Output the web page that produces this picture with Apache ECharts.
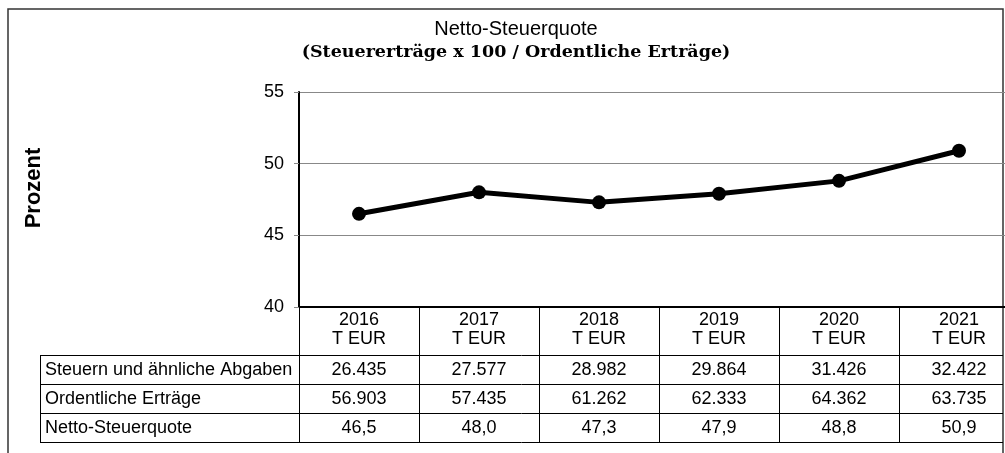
<!DOCTYPE html>
<html style="height: 100%">
<head>
  <meta charset="utf-8" />
  <title>Netto-Steuerquote</title>
  <script src="https://cdn.jsdelivr.net/npm/echarts@6/dist/echarts.min.js"></script>
</head>
<body style="height: 100%; margin: 0; overflow: hidden; background: #fff">
  <!-- etwas breiter als das Fenster: die letzte Spalte läuft rechts aus dem Bild -->
  <div id="container" style="width: 1020px; height: 453px"></div>
  <script>
    // Daten
    var years = ["2016", "2017", "2018", "2019", "2020", "2021"];
    var steuern = [26435, 27577, 28982, 29864, 31426, 32422];
    var ertraege = [56903, 57435, 61262, 62333, 64362, 63735];
    var quote = [46.5, 48.0, 47.3, 47.9, 48.8, 50.9];
    var rowNames = ["Steuern und ähnliche Abgaben", "Ordentliche Erträge", "Netto-Steuerquote"];

    var fmtInt = v => String(v).replace(/\B(?=(\d{3})+(?!\d))/g, ".");
    var fmtDec = v => v.toFixed(1).replace(".", ",");
    var rows = [steuern.map(fmtInt), ertraege.map(fmtInt), quote.map(fmtDec)];

    var font = "Liberation Sans";
    var fs = 18;
    var gridLeft = 299, gridTop = 92, gridH = 215;
    var headH = 48, rowH = 29;

    var dom = document.getElementById("container");
    var myChart = echarts.init(dom, null, { renderer: "canvas" });

    // eine x-Achse pro Tabellenzeile
    var rowAxes = rows.map((r, i) => ({
      type: "category",
      data: years,
      position: "bottom",
      offset: headH + i * rowH,
      axisLine: { show: false },
      axisTick: { show: true, length: rowH, lineStyle: { color: "#000", width: 1 } },
      axisLabel: {
        margin: 6,
        fontFamily: font,
        fontSize: fs,
        color: "#000",
        formatter: (v, idx) => r[idx],
      },
      name: rowNames[i],
      nameLocation: "start",
      nameGap: gridLeft - 45,
      nameTextStyle: {
        fontFamily: font,
        fontSize: fs,
        color: "#000",
        align: "left",
        verticalAlign: "top",
        padding: [6, 0, 0, 0],
      },
    }));

    var tableLines = [0, 1, 2, 3].map(i => ({
      type: "line",
      shape: { x1: 40, y1: gridTop + gridH + headH + i * rowH + 0.5, x2: 1003, y2: gridTop + gridH + headH + i * rowH + 0.5 },
      style: { stroke: "#000", lineWidth: 1 },
    }));
    tableLines.push({
      type: "line",
      shape: { x1: 40.5, y1: gridTop + gridH + headH, x2: 40.5, y2: gridTop + gridH + headH + 3 * rowH },
      style: { stroke: "#000", lineWidth: 1 },
    });

    var option = {
      animation: false,
      title: {
        text: "Netto-Steuerquote",
        subtext: "(Steuererträge x 100 / Ordentliche Erträge)",
        left: 511,
        textAlign: "center",
        top: 14,
        itemGap: 4,
        textStyle: { fontFamily: font, fontSize: 20, fontWeight: "normal", color: "#000" },
        subtextStyle: { fontFamily: "DejaVu Serif", fontSize: 17.5, fontWeight: "bold", color: "#000" },
      },
      grid: { left: gridLeft, top: gridTop, width: 720, height: gridH },
      xAxis: [
        {
          type: "category",
          data: years,
          position: "bottom",
          axisLine: { lineStyle: { color: "#000", width: 2 } },
          axisTick: { show: true, length: headH, lineStyle: { color: "#000", width: 1 } },
          axisLabel: {
            margin: 4,
            fontFamily: font,
            fontSize: fs,
            lineHeight: 19,
            color: "#000",
            formatter: v => v + "\nT EUR",
          },
        },
      ].concat(rowAxes),
      yAxis: {
        type: "value",
        min: 40,
        max: 55,
        interval: 5,
        axisLine: { show: true, lineStyle: { color: "#000", width: 2 } },
        axisTick: { show: true, length: 5, lineStyle: { color: "#888" } },
        splitLine: { lineStyle: { color: "#888", width: 1 } },
        axisLabel: { margin: 15, fontFamily: font, fontSize: fs, color: "#000" },
      },
      series: [
        {
          type: "line",
          data: quote,
          symbol: "circle",
          symbolSize: 14,
          lineStyle: { color: "#000", width: 5 },
          itemStyle: { color: "#000" },
        },
      ],
      graphic: [
        {
          type: "rect",
          shape: { x: 8, y: 9, width: 995, height: 470 },
          style: { fill: "none", stroke: "#333", lineWidth: 1.5 },
        },
        {
          type: "text",
          x: 34,
          y: 188,
          rotation: Math.PI / 2,
          style: {
            text: "Prozent",
            fontFamily: font,
            fontSize: 22,
            fontWeight: "bold",
            fill: "#000",
            align: "center",
            verticalAlign: "middle",
          },
        },
      ].concat(tableLines),
    };
    myChart.setOption(option);
    window.addEventListener("resize", myChart.resize);
  </script>
</body>
</html>
